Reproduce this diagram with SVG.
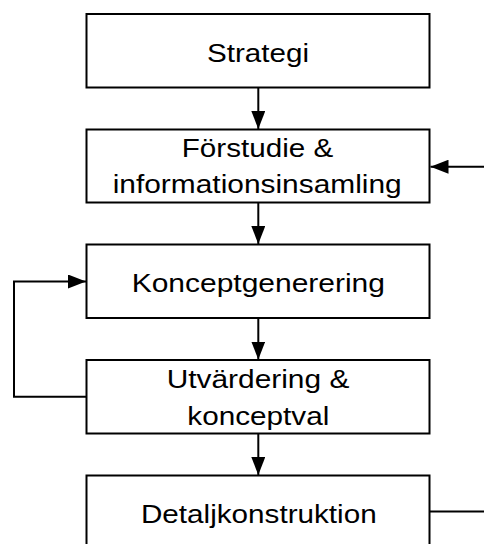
<svg xmlns="http://www.w3.org/2000/svg" width="484" height="544" viewBox="0 0 484 544">
<style>
.box{fill:#fff;stroke:#000;stroke-width:2}
.lbl{font-family:"Liberation Sans",Arial,sans-serif;font-size:25.7px;fill:#000;text-anchor:middle}
.con{fill:none;stroke:#000;stroke-width:2}
</style>
<defs>
<marker id="ah" markerUnits="userSpaceOnUse" markerWidth="20" markerHeight="14" refX="18" refY="7" orient="auto">
<path d="M0,0 L18,7 L0,14 z" fill="#000"/>
</marker>
</defs>
<rect width="484" height="544" fill="#fff"/>
<g id="connectors">
<line class="con" x1="258.3" y1="88" x2="258.3" y2="129" marker-end="url(#ah)"/>
<line class="con" x1="258.3" y1="203" x2="258.3" y2="244" marker-end="url(#ah)"/>
<line class="con" x1="258.3" y1="318.5" x2="258.3" y2="359.5" marker-end="url(#ah)"/>
<line class="con" x1="258.3" y1="434" x2="258.3" y2="475" marker-end="url(#ah)"/>
<polyline class="con" points="86.5,396.7 14,396.7 14,281.5 86,281.5" marker-end="url(#ah)"/>
<line class="con" x1="490" y1="166.7" x2="430.5" y2="166.7" marker-end="url(#ah)"/>
<line class="con" x1="429.5" y1="511.5" x2="490" y2="511.5"/>
</g>
<g id="n1">
<rect class="box" x="86.5" y="14" width="343" height="73.5"/>
<text class="lbl" x="258" y="61.5" textLength="102" lengthAdjust="spacingAndGlyphs">Strategi</text>
</g>
<g id="n2">
<rect class="box" x="86.5" y="129.5" width="343" height="73"/>
<text class="lbl" x="257.5" y="156.7" textLength="151.5" lengthAdjust="spacingAndGlyphs">Förstudie &amp;</text>
<text class="lbl" x="257.2" y="193.3" textLength="289" lengthAdjust="spacingAndGlyphs">informationsinsamling</text>
</g>
<g id="n3">
<rect class="box" x="86.5" y="244.5" width="343" height="73.5"/>
<text class="lbl" x="258.3" y="291.7" textLength="253.3" lengthAdjust="spacingAndGlyphs">Konceptgenerering</text>
</g>
<g id="n4">
<rect class="box" x="86.5" y="360" width="343" height="73.5"/>
<text class="lbl" x="258" y="388.3" textLength="182.7" lengthAdjust="spacingAndGlyphs">Utvärdering &amp;</text>
<text class="lbl" x="258.3" y="425" textLength="142" lengthAdjust="spacingAndGlyphs">konceptval</text>
</g>
<g id="n5">
<rect class="box" x="86.5" y="475.5" width="343" height="74"/>
<text class="lbl" x="258.8" y="523.3" textLength="235.7" lengthAdjust="spacingAndGlyphs">Detaljkonstruktion</text>
</g>
</svg>
